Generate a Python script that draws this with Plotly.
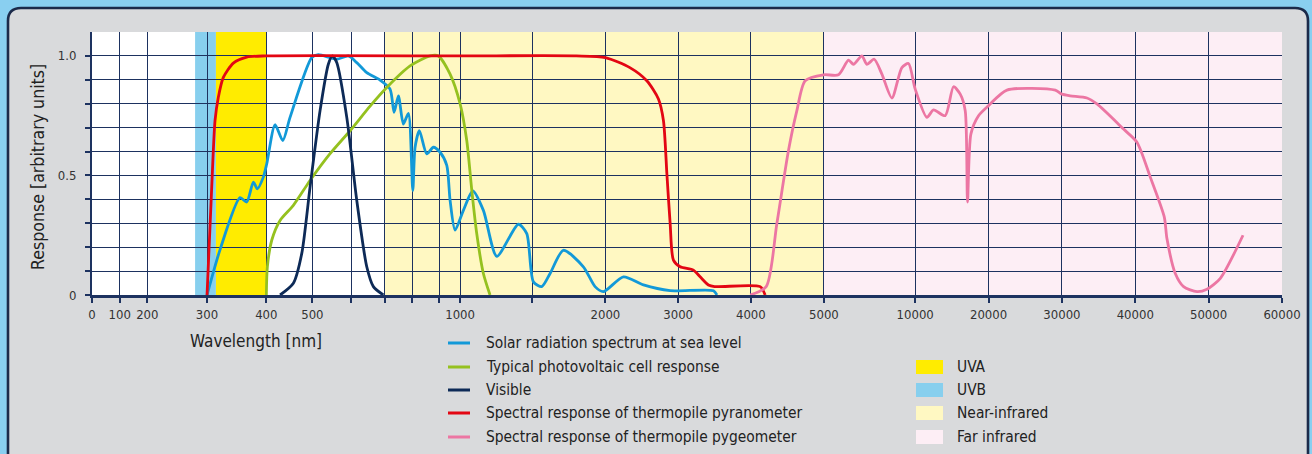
import numpy as np
import plotly.graph_objects as go

# ---------------- axis scale (hand-drawn, piecewise) ----------------
WL_KNOTS = [0, 100, 200, 300, 400, 500, 600, 700, 800, 900, 1000, 1500, 2000,
            3000, 4000, 5000, 10000, 20000, 30000, 40000, 50000, 60000]
POS_KNOTS = [0, 27.7, 55.3, 115, 174.3, 220.3, 259, 292.7, 320.3, 347.3, 368,
             440.3, 513.3, 586, 658.7, 731.7, 823, 896.3, 969.7, 1043, 1116.3, 1189.7]
TICK_LABELS = ["0", "100", "200", "300", "400", "500", "", "", "", "", "1000", "",
               "2000", "3000", "4000", "5000", "10000", "20000", "30000", "40000",
               "50000", "60000"]

Y_TICKS = [0, 0.1, 0.2, 0.3, 0.4, 0.5, 0.6, 0.7, 0.8, 0.9, 1.0]
Y_LABELS = ["0", "", "", "", "", "0.5", "", "", "", "", "1.0"]

# ---------------- data (wavelength nm, response) ----------------
solar_wl = [300, 322, 355.6, 366.9, 378.1, 384.8, 394.9, 400.9, 418.9, 435.7, 451.5, 498.7,
            515.5, 563, 593, 616.9, 646.6, 686, 719.2, 733.7, 749.3, 767.4, 785.5,
            801.5, 810, 825.9, 853.3, 877.8, 903.4, 935.7, 951.7, 975.8, 1022.8,
            1087.8, 1161, 1253.8, 1403, 1461, 1506.8, 1564, 1621, 1712, 1849, 1929,
            1986, 2248, 2523, 2890, 3486, 3533]
solar_val = [0, 0.19, 0.407, 0.389, 0.472, 0.444, 0.493, 0.549, 0.712, 0.646, 0.743, 0.993,
             1.005, 0.986, 1.0, 0.972, 0.93, 0.899, 0.861, 0.764, 0.833, 0.715, 0.76,
             0.437, 0.618, 0.687, 0.59, 0.618, 0.597, 0.542, 0.396, 0.271, 0.354,
             0.435, 0.354, 0.162, 0.296, 0.257, 0.055, 0.035, 0.09, 0.187, 0.118, 0.035,
             0.014, 0.076, 0.042, 0.018, 0.018, 0]

pv_wl = [400, 402.2, 411.7, 429.8, 458.7, 495, 545.2, 597.4, 656.4, 707.2, 791.7,
         865.6, 896, 951.7, 1000, 1046, 1081, 1115, 1161, 1207]
pv_val = [0, 0.118, 0.229, 0.312, 0.375, 0.479, 0.59, 0.687, 0.79, 0.868, 0.958,
          1.0, 1.0, 0.924, 0.80, 0.646, 0.437, 0.257, 0.09, 0]

vis_wl = [429.8, 458.7, 477, 495, 519.9, 541.3, 551.7, 563, 588.9, 616.9, 646.6, 666.2, 695.8]
vis_val = [0, 0.049, 0.174, 0.451, 0.771, 0.965, 1.0, 0.972, 0.743, 0.396, 0.118, 0.035, 0]

pyr_wl = [300, 307.9, 313.5, 319, 327.5, 344.4, 367, 400, 1000, 1800, 2000, 2336, 2569,
          2729, 2798, 2845, 2890, 2935, 3028, 3210, 3302, 3416, 3500, 4127, 4196]
pyr_val = [0, 0.45, 0.73, 0.826, 0.91, 0.97, 0.995, 1.0, 1.0, 1.0, 0.993, 0.951, 0.896,
           0.82, 0.729, 0.507, 0.299, 0.146, 0.118, 0.104, 0.076, 0.042, 0.035,
           0.035, 0]

pyg_wl = [3990, 4210, 4356, 4515, 4630, 4744, 4995, 5800, 6347, 6621, 7081, 7355, 7754,
          8176, 8724, 9271, 9633, 10000, 11596, 12496, 14092, 15225, 16139, 16821,
          17135, 17599, 18636, 20000, 22510, 29100, 30000, 31130, 33410, 34770, 38400,
          40230, 42050, 43960, 44320, 45460, 46590, 48420, 49780, 51600, 54690]
pyg_val = [0, 0.035, 0.299, 0.604, 0.771, 0.896, 0.921, 0.921, 0.982, 0.965, 1.0, 0.965,
           0.986, 0.924, 0.824, 0.951, 0.968, 0.861, 0.743, 0.774, 0.75, 0.871, 0.84,
           0.771, 0.389, 0.674, 0.75, 0.792, 0.857, 0.857, 0.84, 0.833, 0.824, 0.799,
           0.694, 0.639, 0.493, 0.326, 0.236, 0.09, 0.035, 0.014, 0.024, 0.07, 0.25]

bands = [  # name, start nm, end nm
    ("UVB", 280, 315),
    ("UVA", 315, 400),
    ("Near-infrared", 700, 5000),
    ("Far infrared", 5000, 60000),
]

series_names = ["Solar radiation spectrum at sea level",
                "Typical photovoltaic cell response",
                "Visible",
                "Spectral response of thermopile pyranometer",
                "Spectral response of thermopile pygeometer"]
band_legend = ["UVA", "UVB", "Near-infrared", "Far infrared"]

# ---------------- styles ----------------
COLORS = ["#1299d8", "#95c11f", "#0d2a57", "#e30613", "#ec76a3"]
BAND_COLORS = {"UVB": "#87cfee", "UVA": "#ffec00", "Near-infrared": "#fff8c2",
               "Far infrared": "#fdeef5"}
NAVY = "#1d3260"
FONT = "Liberation Sans Narrow, Arial Narrow, DejaVu Sans Condensed, sans-serif"

W, H = 1312, 454
ML, MR, MT, MB = 92, 30, 32, 159
PW, PH = W - ML - MR, H - MT - MB
Y_MAX = 1.1


def xpos(wl):
    return np.interp(np.asarray(wl, dtype=float), WL_KNOTS, POS_KNOTS)


def px2paper(px, py):
    return (px - ML) / PW, (H - MB - py) / PH


fig = go.Figure()

all_series = [(solar_wl, solar_val), (pv_wl, pv_val), (vis_wl, vis_val),
              (pyr_wl, pyr_val), (pyg_wl, pyg_val)]
for (wl, val), name, col in zip(all_series, series_names, COLORS):
    fig.add_trace(go.Scatter(x=xpos(wl), y=val, mode="lines", name=name,
                             line=dict(color=col, width=2.8, shape="spline", smoothing=0.7),
                             showlegend=False, hoverinfo="skip"))

shapes = []
# panel (rounded rectangle)
x0, yt = px2paper(8, 8)
x1, yb = px2paper(1308, 475)
rx, ry = 13 / PW, 13 / PH
path = (f"M {x0},{yb} L {x0},{yt - ry} Q {x0},{yt} {x0 + rx},{yt} "
        f"L {x1 - rx},{yt} Q {x1},{yt} {x1},{yt - ry} L {x1},{yb} Z")
shapes.append(dict(type="path", path=path, xref="paper", yref="paper",
                   fillcolor="#d9dadc", line=dict(color="#1b2a4a", width=2.6), layer="below"))
# plot background
shapes.append(dict(type="rect", xref="x", yref="y", x0=0, x1=POS_KNOTS[-1], y0=0, y1=Y_MAX,
                   fillcolor="white", line=dict(width=0), layer="below"))
for name, a, b in bands:
    shapes.append(dict(type="rect", xref="x", yref="y", x0=float(xpos(a)), x1=float(xpos(b)),
                       y0=0, y1=Y_MAX, fillcolor=BAND_COLORS[name], line=dict(width=0),
                       layer="below"))

annotations = []
# legend: lines
row_y = [343, 367, 390, 413, 437]
for name, col, ry_ in zip(series_names, COLORS, row_y):
    lx0, ly = px2paper(448, ry_)
    lx1, _ = px2paper(470, ry_)
    shapes.append(dict(type="line", xref="paper", yref="paper", x0=lx0, x1=lx1, y0=ly, y1=ly,
                       line=dict(color=col, width=3)))
    tx, _ = px2paper(484, ry_)
    annotations.append(dict(text=name, x=tx, y=ly, xref="paper", yref="paper",
                            xanchor="left", yanchor="middle", showarrow=False,
                            font=dict(family=FONT, size=15.4, color="#222")))
# legend: boxes
for name, ry_ in zip(band_legend, row_y[1:]):
    bx0, by0 = px2paper(916, ry_ + 7)
    bx1, by1 = px2paper(943, ry_ - 7)
    shapes.append(dict(type="rect", xref="paper", yref="paper", x0=bx0, x1=bx1, y0=by0, y1=by1,
                       fillcolor=BAND_COLORS[name], line=dict(width=0)))
    tx, ty = px2paper(955, ry_)
    annotations.append(dict(text=name, x=tx, y=ty, xref="paper", yref="paper",
                            xanchor="left", yanchor="middle", showarrow=False,
                            font=dict(family=FONT, size=15.4, color="#222")))

# axis titles
ax_, ay_ = px2paper(256, 341)
annotations.append(dict(text="Wavelength [nm]", x=ax_, y=ay_, xref="paper", yref="paper",
                        xanchor="center", yanchor="middle", showarrow=False,
                        font=dict(family=FONT, size=17, color="#222")))
ax_, ay_ = px2paper(38, 167)
annotations.append(dict(text="Response [arbitrary units]", x=ax_, y=ay_, xref="paper",
                        yref="paper", xanchor="center", yanchor="middle", showarrow=False,
                        textangle=-90, font=dict(family=FONT, size=17.6, color="#222")))

fig.update_layout(
    width=W, height=H,
    margin=dict(l=ML, r=MR, t=MT, b=MB, pad=0),
    paper_bgcolor="#89cff0",
    plot_bgcolor="white",
    shapes=shapes,
    annotations=annotations,
    showlegend=False,
    xaxis=dict(range=[0, POS_KNOTS[-1]], tickmode="array", tickvals=POS_KNOTS,
               ticktext=TICK_LABELS, showgrid=True, gridcolor=NAVY, gridwidth=1,
               ticks="outside", ticklen=5, tickcolor=NAVY, tickwidth=1.5,
               showline=True, linecolor=NAVY, linewidth=3, zeroline=False,
               tickfont=dict(family=FONT, size=13, color="#333"), fixedrange=True),
    yaxis=dict(range=[0, Y_MAX], tickmode="array", tickvals=Y_TICKS, ticktext=Y_LABELS,
               showgrid=True, gridcolor=NAVY, gridwidth=1, ticks="outside", ticklen=5,
               tickcolor=NAVY, tickwidth=1.5, showline=True, linecolor=NAVY, linewidth=2,
               zeroline=False, tickfont=dict(family=FONT, size=13, color="#333"),
               ticklabelstandoff=6, fixedrange=True),
)

fig.write_html("out.html", config={"displayModeBar": False},
               post_script="document.body.style.margin='0';document.body.style.overflow='hidden';")
